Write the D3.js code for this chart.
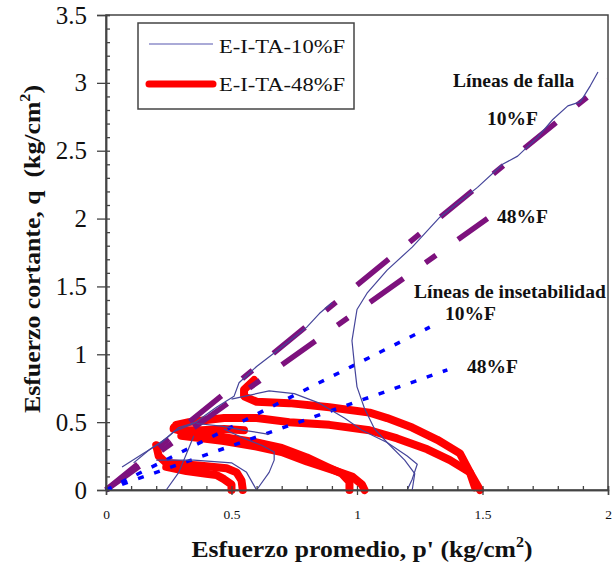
<!DOCTYPE html>
<html lang="es">
<head>
<meta charset="utf-8">
<title>Trayectorias de esfuerzo</title>
<script src="https://cdn.jsdelivr.net/npm/d3@7"></script>
<style>
  body { margin: 0; background: #fff; }
  svg text { font-family: "Liberation Serif", "Times New Roman", serif; fill: #111; }
  .ann { font-weight: bold; font-size: 19.5px; }
  .ytick text { font-size: 25px; }
  .xtick text { font-size: 13.5px; }
  .title { font-weight: bold; font-size: 24px; white-space: pre; }
</style>
</head>
<body>
<div id="chart"></div>
<script>
// axis ticks
var pTicks = [0, 0.5, 1, 1.5, 2];
var qTicks = [0, 0.5, 1, 1.5, 2, 2.5, 3, 3.5];

// E-I-TA-10%F stress paths (p', q)
var test10 = [
  [[1.2,0],[1.22,0.08],[1.24,0.19],[1.2,0.25],[1.12,0.35],[1.07,0.45],[1.03,0.6],[1.0,0.76],[0.99,0.92],[0.98,1.1],
   [1.0,1.33],[1.04,1.45],[1.12,1.62],[1.22,1.79],[1.33,2.01],[1.48,2.23],[1.58,2.4],[1.64,2.46],[1.72,2.6],
   [1.78,2.73],[1.84,2.83],[1.89,2.86],[1.93,2.98],[1.96,3.08]],
  [[0.5,0.67],[0.55,0.69],[0.65,0.73],[0.75,0.71],[0.85,0.64],[0.95,0.53],[1.02,0.44],[1.12,0.35],[1.19,0.22],[1.23,0.12],[1.22,0.0]],
  [[0.064,0.17],[0.15,0.27],[0.22,0.35],[0.27,0.43],[0.35,0.49],[0.44,0.61],[0.51,0.69],[0.53,0.79],[0.6,0.91],
   [0.67,1.01],[0.8,1.2],[0.85,1.3],[0.9,1.38]],
  [[0.11,0.2],[0.175,0.3],[0.24,0.38],[0.29,0.46],[0.36,0.5]],
  [[0.24,0],[0.29,0.13],[0.33,0.31],[0.35,0.4]],
  [[0.6,0],[0.65,0.13],[0.67,0.22],[0.67,0.28],[0.62,0.33],[0.55,0.38],[0.47,0.45]],
  [[0.2,0.22],[0.35,0.22],[0.5,0.2],[0.56,0.13],[0.6,0.0]],
  [[0.36,0.49],[0.46,0.47],[0.55,0.44],[0.65,0.41]]
];

// E-I-TA-48%F stress paths
var test48 = [
  [[0.59,0.81],[0.55,0.74],[0.55,0.69],[0.6,0.65],[0.73,0.64],[0.89,0.61],[1.05,0.57],[1.12,0.53],[1.22,0.46],
   [1.32,0.37],[1.41,0.27],[1.45,0.13],[1.47,0.02]],
  [[0.28,0.48],[0.33,0.5],[0.47,0.53],[0.6,0.53],[0.73,0.5],[0.89,0.48],[1.05,0.44],[1.16,0.38],[1.28,0.3],
   [1.37,0.22],[1.45,0.13],[1.49,0.0]],
  [[0.27,0.46],[0.3,0.44],[0.38,0.44],[0.47,0.45],[0.55,0.44]],
  [[0.27,0.45],[0.33,0.42],[0.47,0.39],[0.6,0.35],[0.7,0.31],[0.8,0.24],[0.88,0.17],[0.94,0.12],[0.97,0.06],[0.97,0.0]],
  [[0.3,0.4],[0.47,0.36],[0.6,0.32],[0.7,0.28],[0.8,0.21],[0.9,0.15],[0.98,0.1],[1.02,0.04],[1.03,0.0]],
  [[0.2,0.33],[0.21,0.25],[0.24,0.2],[0.3,0.19],[0.37,0.18],[0.43,0.17],[0.48,0.16],[0.52,0.13],[0.54,0.07],[0.545,0.0]],
  [[0.24,0.17],[0.32,0.14],[0.4,0.12],[0.44,0.11],[0.47,0.08],[0.5,0.04],[0.5,0.0]]
];

// failure and instability lines
var falla10 = [[0,0],[2.0,3.02]];
var falla48 = [[0,0],[1.52,2.0]];
var inest10 = [[0,0],[1.29,1.2]];
var inest48 = [[0,0],[1.36,0.885]];

var w = 614, h = 567;
var svg = d3.select("#chart").append("svg").attr("width", w).attr("height", h);

var x = d3.scaleLinear().domain([0, 2]).range([106, 608]);
var y = d3.scaleLinear().domain([0, 3.5]).range([490, 15]);

var line = d3.line().x(d => x(d[0])).y(d => y(d[1]));

// frame
svg.append("rect").attr("x", x(0)).attr("y", y(3.5))
  .attr("width", x(2) - x(0)).attr("height", y(0) - y(3.5))
  .attr("fill", "none").attr("stroke", "#444").attr("stroke-width", 1.5);

// red paths
svg.append("g").selectAll("path").data(test48).enter().append("path")
  .attr("d", line).attr("fill", "none").attr("stroke", "#ff0000")
  .attr("stroke-width", 8).attr("stroke-linejoin", "round").attr("stroke-linecap", "round");

// failure lines
[falla10, falla48].forEach(function(d){
  svg.append("path").attr("d", line(d)).attr("fill", "none")
    .attr("stroke", "#7d117d").attr("stroke-width", 5.5)
    .attr("stroke-dasharray", "41,27,13,27");
});

// instability lines
[inest10, inest48].forEach(function(d){
  svg.append("path").attr("d", line(d)).attr("fill", "none")
    .attr("stroke", "#0000ff").attr("stroke-width", 3.5)
    .attr("stroke-dasharray", "6,11");
});

// blue paths
svg.append("g").selectAll("path").data(test10).enter().append("path")
  .attr("d", line).attr("fill", "none").attr("stroke", "#45459a")
  .attr("stroke-width", 1.2).attr("stroke-linejoin", "round");

// y axis
var yMajor = svg.append("g").attr("class", "ytick").attr("transform", "translate(" + x(0) + ",0)")
  .call(d3.axisLeft(y).tickValues(qTicks).tickSize(9).tickPadding(10).tickFormat(d3.format("")));
var yMinor = svg.append("g").attr("transform", "translate(" + x(0) + ",0)")
  .call(d3.axisRight(y).tickValues(d3.range(0, 3.51, 0.1)).tickSize(4).tickFormat(""));

// x axis
var xMajor = svg.append("g").attr("class", "xtick").attr("transform", "translate(0," + y(0) + ")")
  .call(d3.axisBottom(x).tickValues(pTicks).tickSize(5).tickPadding(14).tickFormat(d3.format("")));
var xMinor = svg.append("g").attr("transform", "translate(0," + y(0) + ")")
  .call(d3.axisTop(x).tickValues(d3.range(0, 2.01, 0.1)).tickSize(4).tickFormat(""));

[yMajor, yMinor, xMajor, xMinor].forEach(function(g){
  g.select(".domain").attr("stroke", "#444").attr("stroke-width", 1.5);
  g.selectAll(".tick line").attr("stroke", "#444").attr("stroke-width", 1.3);
  g.selectAll(".tick text").attr("fill", "#111");
});
xMajor.selectAll(".tick text").attr("font-size", null).attr("font-family", null);
yMajor.selectAll(".tick text").attr("font-size", null).attr("font-family", null);

// legend
var leg = svg.append("g");
leg.append("rect").attr("x", 138).attr("y", 23).attr("width", 216).attr("height", 86)
  .attr("fill", "#fff").attr("stroke", "#444").attr("stroke-width", 1.5);
leg.append("line").attr("x1", 149).attr("x2", 213).attr("y1", 44).attr("y2", 44)
  .attr("stroke", "#5656b0").attr("stroke-width", 1.2);
leg.append("line").attr("x1", 149).attr("x2", 213).attr("y1", 84).attr("y2", 84)
  .attr("stroke", "#ff0000").attr("stroke-width", 7).attr("stroke-linecap", "round");
leg.append("text").attr("x", 219).attr("y", 53).attr("font-size", 18)
  .attr("textLength", 126).attr("lengthAdjust", "spacingAndGlyphs").text("E-I-TA-10%F");
leg.append("text").attr("x", 219).attr("y", 91).attr("font-size", 18)
  .attr("textLength", 126).attr("lengthAdjust", "spacingAndGlyphs").text("E-I-TA-48%F");

// annotations
var notes = [
  {t: "Líneas de falla", x: 453, y: 87},
  {t: "10%F", x: 487, y: 125},
  {t: "48%F", x: 497, y: 223},
  {t: "Líneas de insetabilidad", x: 414, y: 298},
  {t: "10%F", x: 445, y: 320},
  {t: "48%F", x: 467, y: 373}
];
svg.append("g").selectAll("text").data(notes).enter().append("text")
  .attr("class", "ann").attr("x", d => d.x).attr("y", d => d.y).text(d => d.t);

// axis titles
var xt = svg.append("text").attr("class", "title").attr("x", 362).attr("y", 557)
  .attr("text-anchor", "middle").attr("textLength", 341).attr("lengthAdjust", "spacingAndGlyphs");
xt.append("tspan").text("Esfuerzo promedio, p' (kg/cm");
xt.append("tspan").attr("font-size", 15).attr("dy", -10).text("2");
xt.append("tspan").attr("dy", 10).text(")");

var yt = svg.append("text").attr("class", "title")
  .attr("transform", "translate(40,249) rotate(-90)").attr("text-anchor", "middle")
  .attr("textLength", 328).attr("lengthAdjust", "spacingAndGlyphs");
yt.append("tspan").text("Esfuerzo cortante, q  (kg/cm");
yt.append("tspan").attr("font-size", 15).attr("dy", -10).text("2");
yt.append("tspan").attr("dy", 10).text(")");
</script>
</body>
</html>
